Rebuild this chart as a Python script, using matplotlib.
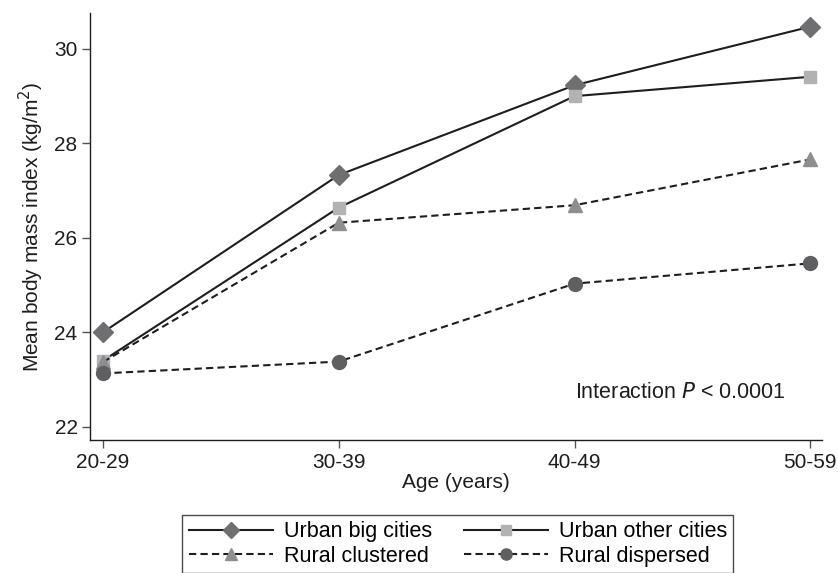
import matplotlib
matplotlib.use("Agg")
import matplotlib.pyplot as plt

plt.rcParams["font.family"] = ["Liberation Sans", "DejaVu Sans"]

ages = ["20-29", "30-39", "40-49", "50-59"]
urbanBig = [24.0, 27.33, 29.23, 30.47]
urbanOther = [23.4, 26.64, 29.0, 29.41]
ruralClustered = [23.37, 26.32, 26.69, 27.66]
ruralDispersed = [23.13, 23.38, 25.03, 25.46]
yticks = [22, 24, 26, 28, 30]

series = [
    ("Urban big cities", urbanBig, "-", "D", "#6f6f71", 10),
    ("Urban other cities", urbanOther, "-", "s", "#b2b2b4", 9),
    ("Rural clustered", ruralClustered, "--", "^", "#8e8e90", 10.5),
    ("Rural dispersed", ruralDispersed, "--", "o", "#5f5f61", 10),
]

fig = plt.figure(figsize=(8.38, 5.73), dpi=100)
ax = fig.add_axes([0.1074, 0.2321, 0.8736, 0.7452])

x = list(range(len(ages)))
lines = []
for label, vals, ls, mk, col, ms in series:
    ln, = ax.plot(x, vals, linestyle=ls, color="#1e1e1e", linewidth=1.5,
                  marker=mk, markersize=ms, markerfacecolor=col,
                  markeredgecolor=col, label=label,
                  dashes=(3.5, 2) if ls == "--" else (None, None))
    lines.append(ln)

ax.set_xlim(-0.055, 3.05)
ax.set_ylim(21.72, 30.76)
ax.set_xticks(x)
ax.set_xticklabels(ages)
ax.set_yticks(yticks)
ax.tick_params(labelsize=15, direction="out", length=6, width=1,
               color="#555555", labelcolor="#1e1e1e", pad=3)
for s in ["top", "right"]:
    ax.spines[s].set_visible(False)
for s in ["left", "bottom"]:
    ax.spines[s].set_color("#1e1e1e")
    ax.spines[s].set_linewidth(1.0)

ax.set_xlabel("Age (years)", fontsize=15, color="#1e1e1e", labelpad=1)
ax.set_ylabel("Mean body mass index (kg/m$^2$)", fontsize=15,
              color="#1e1e1e", labelpad=6)

ax.text(2.0, 22.73, "Interaction $\\it{P}$ < 0.0001", fontsize=15.5,
        color="#1e1e1e", va="center", ha="left")

# legend fills by column, so reorder to get row-wise layout
order = [0, 2, 1, 3]
leg = fig.legend([lines[i] for i in order], [series[i][0] for i in order],
                 loc="upper center", bbox_to_anchor=(0.5465, 0.12), ncol=2,
                 fontsize=15.5, frameon=True, fancybox=False,
                 edgecolor="#1e1e1e", handlelength=3.9, handletextpad=0.5,
                 columnspacing=1.5, borderpad=0.3, labelspacing=0.15,
                 markerscale=0.8)
leg.get_frame().set_linewidth(1.0)

fig.savefig("out.png", dpi=100)
